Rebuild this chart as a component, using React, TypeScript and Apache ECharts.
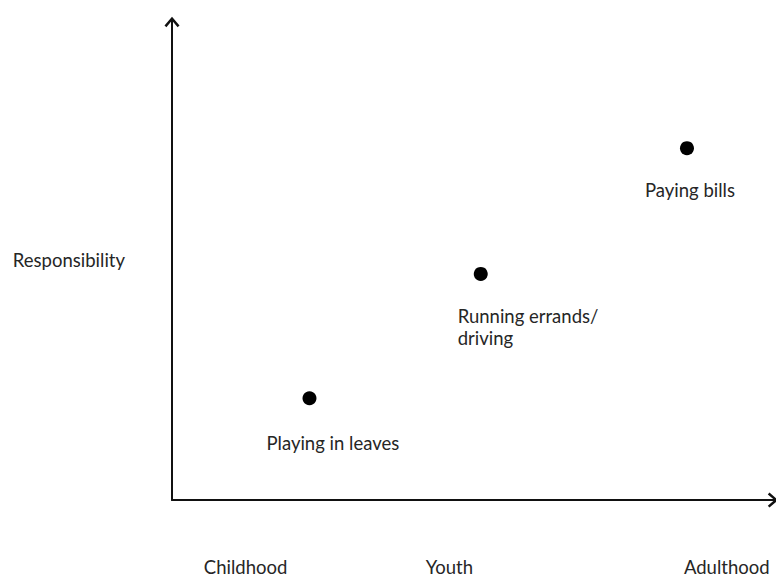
import React, { useEffect, useRef } from "react";
import * as echarts from "echarts";

const stageLabels = ["Childhood", "Youth", "Adulthood"];
const stagePositions = [12.2, 46, 92];
const activityNames = ["Playing in leaves", "Running errands/\ndriving", "Paying bills"];
const stageValues = [22.8, 51.2, 85.4];
const responsibilityValues = [21.2, 47.1, 73.3];
const labelOffsets = [[-43, 45], [-23, 53], [-42, 42]];

const chevron = "path://M6,0 L12,7 L10.5,8.3 L6,3 L1.5,8.3 L0,7 Z";

export default function App() {
  const ref = useRef<HTMLDivElement>(null);
  useEffect(() => {
    const chart = echarts.init(ref.current!, null, { renderer: "svg" });
    const font = "Lato, 'Open Sans', sans-serif";
    const fs = 18.5;
    chart.setOption({
      animation: false,
      backgroundColor: "#ffffff",
      grid: { left: 172, right: 1, top: 20, bottom: 80, containLabel: false },
      xAxis: {
        type: "value",
        min: 0,
        max: 100,
        splitLine: { show: false },
        axisTick: { show: false },
        axisLine: {
          show: true,
          lineStyle: { color: "#111", width: 2 },
          symbol: ["none", chevron],
          symbolSize: [15, 13],
          symbolOffset: [0, -2],
        },
        axisLabel: {
          show: true,
          customValues: stagePositions,
          formatter: (v: number) => {
            const i = stagePositions.indexOf(v);
            return i >= 0 ? stageLabels[i] : "";
          },
          margin: 57,
          color: "#262626",
          fontFamily: font,
          fontSize: fs,
        },
      },
      yAxis: {
        type: "value",
        min: 0,
        max: 100,
        name: "Responsibility",
        nameLocation: "middle",
        nameRotate: 0,
        nameGap: 47,
        nameTextStyle: { color: "#262626", fontFamily: font, fontSize: fs, padding: [0, 0, 20, 0] },
        splitLine: { show: false },
        axisTick: { show: false },
        axisLabel: { show: false },
        axisLine: {
          show: true,
          lineStyle: { color: "#111", width: 2 },
          symbol: ["none", chevron],
          symbolSize: [15, 13],
          symbolOffset: [0, -2],
        },
      },
      series: [
        {
          type: "scatter",
          symbol: "circle",
          symbolSize: 14,
          itemStyle: { color: "#000", opacity: 1 },
          data: activityNames.map((n, i) => ({
            name: n,
            value: [stageValues[i], responsibilityValues[i]],
            label: {
              show: true,
              position: "inside",
              align: "left",
              verticalAlign: "middle",
              offset: labelOffsets[i],
              formatter: n,
              color: "#262626",
              fontFamily: font,
              fontSize: fs,
              lineHeight: 22,
            },
          })),
        },
      ],
    });
    return () => chart.dispose();
  }, []);
  return (
    <div
      ref={ref}
      style={{ position: "fixed", left: 0, top: 0, width: 776, height: 580, background: "#fff" }}
    />
  );
}
